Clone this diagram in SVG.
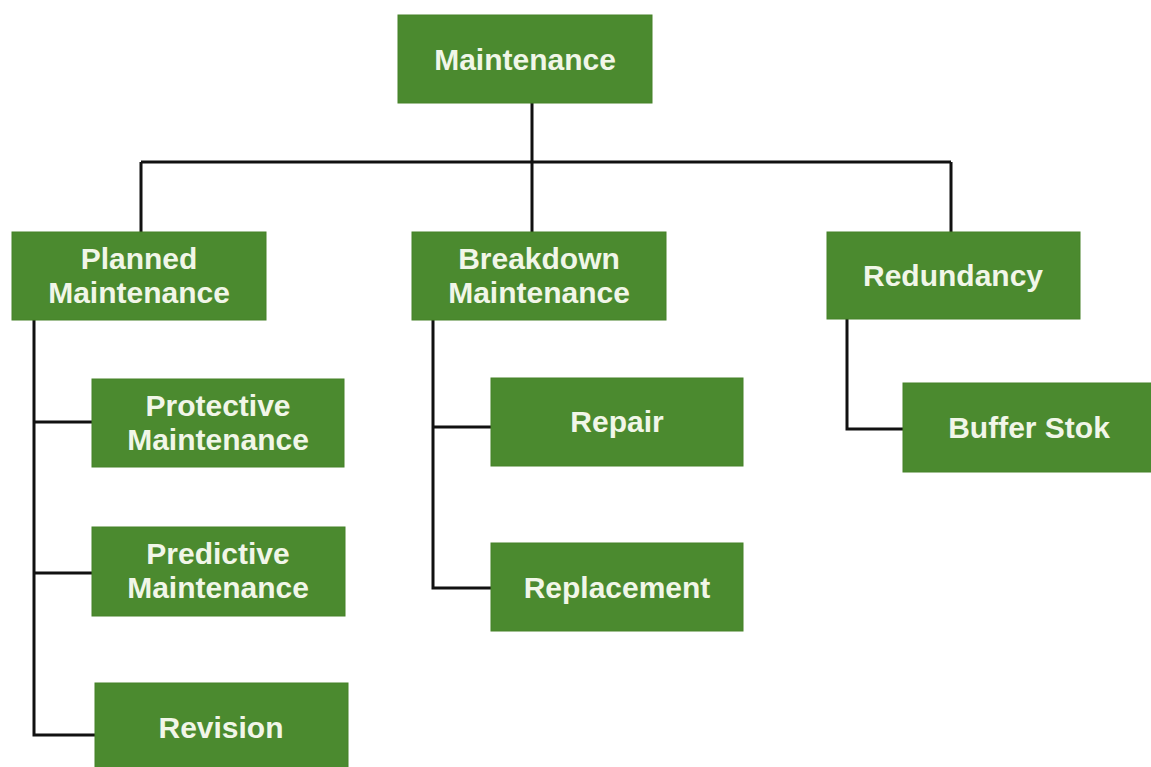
<svg xmlns="http://www.w3.org/2000/svg" width="1151" height="767" viewBox="0 0 1151 767">
<style>
.box{fill:#4b8a2f;stroke:#468229;stroke-width:1}
.t{font-family:"Liberation Sans",Arial,sans-serif;font-weight:bold;font-size:30px;fill:#f1f6e8;text-anchor:middle}
.c{fill:none;stroke:#111;stroke-width:3;stroke-linejoin:miter}
</style>
<rect width="1151" height="767" fill="#ffffff"/>
<g id="connectors">
<path class="c" d="M532,103 V162 M141,162 H951 M141,162 V232 M532,162 V232 M951,162 V232"/>
<path class="c" d="M34,320 V735 H95 M34,422 H92 M34,573 H92"/>
<path class="c" d="M433,320 V588 H491 M433,427 H491"/>
<path class="c" d="M847,319 V429 H903"/>
</g>
<g id="maintenance"><rect class="box" x="398" y="15" width="254" height="88"/><text class="t" x="525" y="70">Maintenance</text></g>
<g id="planned"><rect class="box" x="12" y="232" width="254" height="88"/><text class="t" x="139" y="269">Planned</text><text class="t" x="139" y="303">Maintenance</text></g>
<g id="breakdown"><rect class="box" x="412" y="232" width="254" height="88"/><text class="t" x="539" y="269">Breakdown</text><text class="t" x="539" y="303">Maintenance</text></g>
<g id="redundancy"><rect class="box" x="827" y="232" width="253" height="87"/><text class="t" x="953" y="286">Redundancy</text></g>
<g id="protective"><rect class="box" x="92" y="379" width="252" height="88"/><text class="t" x="218" y="416">Protective</text><text class="t" x="218" y="450">Maintenance</text></g>
<g id="predictive"><rect class="box" x="92" y="527" width="253" height="89"/><text class="t" x="218" y="564">Predictive</text><text class="t" x="218" y="598">Maintenance</text></g>
<g id="revision"><rect class="box" x="95" y="683" width="253" height="88"/><text class="t" x="221" y="738">Revision</text></g>
<g id="repair"><rect class="box" x="491" y="378" width="252" height="88"/><text class="t" x="617" y="432">Repair</text></g>
<g id="replacement"><rect class="box" x="491" y="543" width="252" height="88"/><text class="t" x="617" y="598">Replacement</text></g>
<g id="bufferstok"><rect class="box" x="903" y="383" width="253" height="89"/><text class="t" x="1029" y="438">Buffer Stok</text></g>
</svg>
